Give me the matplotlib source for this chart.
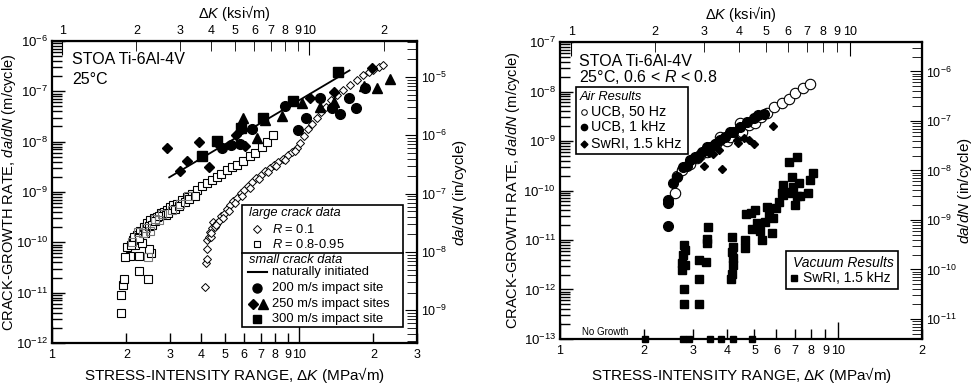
import numpy as np
import matplotlib.pyplot as plt
from matplotlib.ticker import FixedLocator, LogLocator, NullFormatter
from matplotlib.patches import Rectangle

plt.rcParams['font.family'] = ['Liberation Sans', 'DejaVu Sans']
plt.rcParams['mathtext.fontset'] = 'custom'
plt.rcParams['mathtext.rm'] = 'Liberation Sans'
plt.rcParams['mathtext.it'] = 'Liberation Sans:italic'
plt.rcParams['mathtext.bf'] = 'Liberation Sans:bold'

KSI = 1.0988  # MPa*sqrt(m) per ksi*sqrt(in)

# ── Left panel: large crack data ────────────────────────────────────────────
r01_K = [4.16, 4.20, 4.22, 4.23, 4.25, 4.30, 4.39, 4.48, 4.35, 4.45, 4.55, 4.65,
         4.75, 4.85, 4.95, 5.1, 5.25, 5.4, 5.6, 5.8, 6.0, 6.2, 6.45, 6.7, 7.0,
         7.3, 7.6, 7.9, 8.2, 8.6, 9.0, 9.4, 9.8, 10.1, 10.5, 10.9, 11.3, 11.8,
         12.3, 12.8, 13.5, 14.2, 15.0, 16.1, 17.1, 18.2, 19.1, 20.0, 21.0, 21.9,
         4.4, 4.6, 4.9, 5.2, 5.5, 5.9, 6.3, 6.9, 7.5, 8.1, 8.8, 9.6]
r01_da = [1.3e-11, 3.8e-11, 4.7e-11, 7.2e-11, 1.1e-10, 1.25e-10, 1.3e-10, 2.5e-10,
          1.6e-10, 1.9e-10, 2.0e-10, 2.4e-10, 2.7e-10, 3.3e-10, 3.6e-10, 4.6e-10,
          5.4e-10, 6.6e-10, 7.6e-10, 9.5e-10, 1.1e-9, 1.3e-9, 1.6e-9, 1.9e-9,
          2.2e-9, 2.6e-9, 3.0e-9, 3.4e-9, 3.9e-9, 4.6e-9, 5.5e-9, 6.3e-9, 7.6e-9,
          9.5e-9, 1.3e-8, 1.75e-8, 2.2e-8, 2.9e-8, 3.8e-8, 4.9e-8, 6.6e-8, 8.5e-8,
          1.07e-7, 1.35e-7, 1.7e-7, 2.1e-7, 2.4e-7, 2.6e-7, 3.0e-7, 3.3e-7,
          1.5e-10, 2.2e-10, 3.0e-10, 4.2e-10, 6.0e-10, 8.5e-10, 1.2e-9, 1.8e-9,
          2.5e-9, 3.3e-9, 4.4e-9, 6.6e-9]

r08_K = [1.91, 1.90, 1.93, 1.95, 2.24, 2.45, 2.06, 2.24, 2.52, 2.48, 2.17, 2.31,
         2.12, 2.20, 2.27, 2.35, 2.42, 2.50, 2.58, 2.65, 2.75, 2.83, 2.91, 3.0,
         3.1, 3.2, 3.35, 3.51, 3.68, 3.85, 4.05, 4.23, 4.45, 4.64, 4.85, 5.09,
         5.35, 5.59, 5.95, 6.3, 6.64, 7.06, 7.4, 7.85,
         2.15, 2.25, 2.38, 2.46, 2.55, 2.62, 2.70, 2.88, 2.96, 3.15, 3.28, 3.45,
         3.6, 3.78, 1.98, 2.02, 2.09]
r08_da = [3.9e-12, 8.9e-12, 1.4e-11, 1.9e-11, 2.7e-11, 1.9e-11, 5.4e-11, 5.4e-11,
          6.2e-11, 7.2e-11, 8.7e-11, 9.8e-11, 1.1e-10, 1.4e-10, 1.7e-10, 2.0e-10,
          2.4e-10, 2.8e-10, 3.1e-10, 3.2e-10, 3.8e-10, 4.0e-10, 4.4e-10, 5.0e-10,
          5.5e-10, 5.9e-10, 6.8e-10, 7.9e-10, 9.0e-10, 1.1e-9, 1.3e-9, 1.5e-9,
          1.75e-9, 2.0e-9, 2.3e-9, 2.75e-9, 3.1e-9, 3.4e-9, 4.2e-9, 5.1e-9,
          5.9e-9, 7.9e-9, 1.0e-8, 1.35e-8,
          1.3e-10, 1.2e-10, 1.5e-10, 2.1e-10, 2.2e-10, 2.6e-10, 3.3e-10, 3.5e-10,
          3.9e-10, 4.6e-10, 5.2e-10, 6.2e-10, 7.3e-10, 8.4e-10, 5.2e-11, 8.0e-11,
          9.0e-11]

r08g_K = [2.10, 2.22, 2.33, 2.40, 2.49, 2.60, 2.72, 2.80, 3.05, 3.3, 3.55, 2.45]
r08g_da = [1.0e-10, 1.6e-10, 1.5e-10, 1.9e-10, 1.7e-10, 2.9e-10, 2.8e-10,
           3.6e-10, 4.4e-10, 5.7e-10, 8.2e-10, 5.0e-11]

# ── Left panel: small crack data ────────────────────────────────────────────
nat_K = [2.98, 16.0]
nat_da = [1.95e-9, 2.6e-7]

c200_K = [4.86, 5.30, 5.77, 6.47, 8.78, 9.94, 10.7, 12.1, 13.6, 14.6, 15.9, 17.0, 18.5]
c200_da = [7.4e-9, 8.5e-9, 8.9e-9, 1.8e-8, 5.1e-8, 1.7e-8, 3.0e-8, 7.4e-8,
           4.6e-8, 3.6e-8, 7.4e-8, 4.7e-8, 1.17e-7]

d250_K = [2.93, 3.30, 3.53, 3.95, 4.30, 4.69, 5.54, 6.04, 11.1, 13.8, 19.7]
d250_da = [7.6e-9, 2.6e-9, 4.2e-9, 9.8e-9, 3.2e-9, 8.9e-9, 1.35e-8, 8.1e-9,
           7.4e-8, 9.8e-8, 2.9e-7]

t250_K = [5.95, 6.74, 7.28, 8.51, 10.3, 12.2, 13.9, 18.3, 20.6, 23.4]
t250_da = [3.0e-8, 1.2e-8, 2.7e-8, 3.2e-8, 5.8e-8, 4.9e-8, 6.2e-8, 1.25e-7,
           1.17e-7, 1.74e-7]

s300_K = [4.05, 4.67, 5.81, 7.16, 9.43, 14.4]
s300_da = [5.1e-9, 1.02e-8, 1.9e-8, 2.9e-8, 6.5e-8, 2.4e-7]

# ── Right panel: air results ────────────────────────────────────────────────
ucb50_K = [2.59, 2.63, 2.74, 2.93, 3.19, 3.37, 3.56, 3.76, 3.98, 4.27, 4.44, 4.5,
           4.76, 5.03, 5.27, 5.54, 5.88, 6.27, 6.63, 7.0, 7.5, 7.93,
           3.1, 3.4, 3.65, 4.1]
ucb50_da = [8.7e-11, 2.0e-10, 2.6e-10, 3.5e-10, 5.2e-10, 6.0e-10, 7.6e-10,
            1.23e-9, 9.8e-10, 1.3e-9, 2.3e-9, 1.55e-9, 2.1e-9, 2.3e-9, 3.1e-9,
            3.6e-9, 4.8e-9, 5.8e-9, 7.2e-9, 9.5e-9, 1.2e-8, 1.4e-8,
            4.6e-10, 7.0e-10, 8.5e-10, 1.2e-9]

ucb1k_K = [2.44, 2.44, 2.45, 2.54, 2.63, 2.76, 2.85, 2.93, 3.06, 3.14, 3.23, 3.38,
           3.45, 3.61, 3.76, 3.92, 4.09, 4.20, 4.44, 4.69, 5.0, 5.16, 5.39]
ucb1k_da = [1.9e-11, 6.5e-11, 5.5e-11, 1.45e-10, 1.9e-10, 3.0e-10, 3.1e-10,
            4.2e-10, 4.8e-10, 4.8e-10, 6.0e-10, 7.6e-10, 7.4e-10, 8.9e-10,
            1.05e-9, 1.23e-9, 1.55e-9, 1.55e-9, 1.95e-9, 2.45e-9, 2.9e-9,
            3.4e-9, 3.5e-9]

swri_air_K = [3.30, 3.42, 3.56, 3.74, 3.81, 4.32, 4.38, 4.59, 4.76, 4.98, 5.84]
swri_air_da = [3.1e-10, 5.6e-10, 5.5e-10, 6.6e-10, 2.7e-10, 1.05e-9, 9.3e-10,
               1.17e-9, 1.05e-9, 8.9e-10, 2.0e-9]

# ── Right panel: vacuum results ─────────────────────────────────────────────
vac_K = [2.80, 2.81, 2.77, 2.74, 2.74, 2.81, 2.79, 2.79, 3.16, 3.16, 3.16, 3.35,
         3.40, 3.39, 3.37, 4.15, 4.20, 4.15, 4.17, 4.20, 4.15, 4.12, 4.63, 4.63,
         4.67, 4.86, 5.03, 4.89, 5.11, 5.25, 5.32, 5.47, 5.62, 5.54, 5.84, 5.77,
         6.0, 6.14, 6.35, 6.52, 7.10, 7.0, 6.63, 7.1, 6.82, 6.35, 6.27, 6.9,
         7.2, 6.82, 7.93, 8.14, 7.8, 7.3]
vac_da = [7.9e-12, 6.3e-12, 5.0e-12, 3.5e-12, 2.5e-12, 3.1e-12, 1.0e-12, 5.1e-13,
          5.1e-13, 1.6e-12, 4.0e-12, 3.6e-12, 1.8e-11, 1.07e-11, 8.5e-12,
          1.17e-11, 7.2e-12, 5.8e-12, 4.3e-12, 3.1e-12, 2.1e-12, 1.6e-12,
          1.0e-11, 6.8e-12, 3.3e-11, 3.5e-11, 4.1e-11, 1.7e-11, 2.2e-11,
          1.5e-11, 1.0e-11, 2.3e-11, 3.2e-11, 4.7e-11, 2.8e-11, 1.4e-11,
          4.4e-11, 5.9e-11, 8.1e-11, 9.5e-11, 7.6e-11, 5.1e-11, 3.8e-10,
          4.7e-10, 1.9e-10, 1.3e-10, 8.7e-11, 1.2e-10, 1.45e-10, 9.1e-11,
          1.6e-10, 2.3e-10, 9.1e-11, 7.8e-11]

nogrowth_K = [2.02, 2.77, 2.90, 3.46, 3.79, 4.19, 4.9]
nogrowth_da = [1e-13] * 7

bot_labels_left = ['1', '2', '3', '4', '5', '6', '7', '8', '9', '10', '2', '3']
bot_labels_right = ['1', '2', '3', '4', '5', '6', '7', '8', '9', '10', '2']
top_labels_left = ['1', '2', '3', '4', '5', '6', '7', '8', '9', '10', '2']
top_labels_right = ['1', '2', '3', '4', '5', '6', '7', '8', '9', '10']


def log_ticks(ax_axis, vals, labels):
    majors = [v for v in vals if np.isclose(np.log10(v) % 1, 0)]
    minors = [v for v in vals if v not in majors]
    ax_axis.set_major_locator(FixedLocator(majors))
    ax_axis.set_minor_locator(FixedLocator(minors))
    ax_axis.set_ticklabels([labels[vals.index(v)] for v in majors])
    ax_axis.set_ticklabels([labels[vals.index(v)] for v in minors], minor=True)


def style(ax, xlim, ylim, bot_vals, bot_labels, top_vals, top_labels, m2in, in2m,
          toplabel, ylab_x, xlab_y):
    ax.set_xscale('log')
    ax.set_yscale('log')
    ax.set_xlim(*xlim)
    ax.set_ylim(*ylim)
    log_ticks(ax.xaxis, bot_vals, bot_labels)
    ax.yaxis.set_major_locator(LogLocator(base=10, numticks=20))
    ax.yaxis.set_minor_locator(LogLocator(base=10, subs=np.arange(2, 10), numticks=20))
    ax.yaxis.set_minor_formatter(NullFormatter())
    ax.tick_params(which='both', direction='in', width=1.0, labelsize=9)
    ax.tick_params(axis='x', which='major', length=12, pad=4)
    ax.tick_params(axis='x', which='minor', length=7, pad=4)
    ax.tick_params(axis='y', which='major', length=9, pad=3, labelsize=9.5)
    ax.tick_params(axis='y', which='minor', length=7)
    for s in ax.spines.values():
        s.set_linewidth(1.6)
    ax.set_xlabel(r'STRESS-INTENSITY RANGE, Δ$\it{K}$ (MPa√m)', fontsize=11)
    ax.xaxis.set_label_coords(0.5, xlab_y)
    ax.set_ylabel(r'CRACK-GROWTH RATE, $\it{da/dN}$ (m/cycle)', fontsize=10.5)
    ax.yaxis.set_label_coords(ylab_x, 0.5)

    top = ax.secondary_xaxis('top', functions=(lambda k: k / KSI, lambda k: k * KSI))
    log_ticks(top.xaxis, top_vals, top_labels)
    top.tick_params(which='both', direction='in', labelsize=9, pad=3)
    top.tick_params(which='major', length=10)
    top.tick_params(which='minor', length=7)
    top.set_xlabel(toplabel, fontsize=10.5, labelpad=5)

    right = ax.secondary_yaxis('right', functions=(m2in, in2m))
    right.yaxis.set_major_locator(LogLocator(base=10, numticks=20))
    right.yaxis.set_minor_locator(LogLocator(base=10, subs=np.arange(2, 10), numticks=20))
    right.yaxis.set_minor_formatter(NullFormatter())
    right.tick_params(which='both', direction='in', labelsize=9, pad=3)
    right.tick_params(which='major', length=9)
    right.tick_params(which='minor', length=7)
    return top, right


def safe_log(y):
    return np.log10(np.maximum(np.asarray(y, dtype=float), 1e-300))


# left panel right axis as drawn in the original (compressed decades)
def m2in_left(y):
    return 10 ** (-4.383 + 0.8628 * (safe_log(y) + 6))


def in2m_left(y):
    return 10 ** ((safe_log(y) + 4.383) / 0.8628 - 6)


def m2in_right(y):
    return np.asarray(y, dtype=float) * 39.37


def in2m_right(y):
    return np.asarray(y, dtype=float) / 39.37


fig = plt.figure(figsize=(9.74, 3.84), dpi=100)
axL = fig.add_axes([0.0534, 0.1068, 0.3747, 0.7865])
axR = fig.add_axes([0.5749, 0.1172, 0.3717, 0.7734])

# ── Left panel ──────────────────────────────────────────────────────────────
style(axL, (1, 30), (1e-12, 1e-6),
      [1, 2, 3, 4, 5, 6, 7, 8, 9, 10, 20, 30], bot_labels_left,
      [1, 2, 3, 4, 5, 6, 7, 8, 9, 10, 20], top_labels_left,
      m2in_left, in2m_left, r'Δ$\it{K}$ (ksi√m)', -0.092, -0.074)
fig.text(460 / 974, 1 - 192 / 384, r'$\it{da/dN}$ (in/cycle)', rotation=90,
         ha='center', va='center', fontsize=11)

axL.plot(r08_K, r08_da, 's', ms=5.5, mfc='white', mec='black', mew=0.8)
axL.plot(r08g_K, r08g_da, 's', ms=5.5, mfc='none', mec='#777777', mew=0.8)
axL.plot(r01_K, r01_da, 'D', ms=4.2, mfc='white', mec='black', mew=0.7)
axL.plot(nat_K, nat_da, '-', color='black', lw=1.3)
axL.plot(c200_K, c200_da, 'o', ms=7, color='black')
axL.plot(d250_K, d250_da, 'D', ms=5.5, color='black')
axL.plot(t250_K, t250_da, '^', ms=7.5, color='black')
axL.plot(s300_K, s300_da, 's', ms=6.5, color='black')

axL.text(0.055, 0.937, 'STOA Ti-6Al-4V', transform=axL.transAxes, fontsize=11.5,
         va='center')
axL.text(0.055, 0.874, '25°C', transform=axL.transAxes, fontsize=11.5, va='center')

# legend (two sections)
tr = axL.transAxes
axL.add_patch(Rectangle((0.5205, 0.053), 0.9616 - 0.5205, 0.457 - 0.053,
                        transform=tr, fill=True, fc='white', ec='black', lw=1.2,
                        zorder=5))
axL.plot([0.5205, 0.9616], [0.298, 0.298], transform=tr, color='black', lw=1.2,
         zorder=6)
lfs = 9.3
axL.text(0.540, 0.4295, 'large crack data', style='italic', transform=tr,
         fontsize=lfs, va='center', zorder=6)
axL.plot([0.5608], [0.3765], 'D', ms=4.2, mfc='white', mec='black', mew=0.7,
         transform=tr, zorder=6)
axL.text(0.6019, 0.3765, r'$\it{R}$ = 0.1', transform=tr, fontsize=lfs,
         va='center', zorder=6)
axL.plot([0.5608], [0.3268], 's', ms=5, mfc='white', mec='black', mew=0.8,
         transform=tr, zorder=6)
axL.text(0.6019, 0.3268, r'$\it{R}$ = 0.8-0.95', transform=tr, fontsize=lfs,
         va='center', zorder=6)
axL.text(0.540, 0.2748, 'small crack data', style='italic', transform=tr,
         fontsize=lfs, va='center', zorder=6)
axL.plot([0.537, 0.588], [0.2361, 0.2361], '-', color='black', lw=1.5,
         transform=tr, zorder=6)
axL.text(0.6019, 0.2361, 'naturally initiated', transform=tr, fontsize=lfs,
         va='center', zorder=6)
axL.plot([0.5608], [0.1811], 'o', ms=6.5, color='black', transform=tr, zorder=6)
axL.text(0.6019, 0.1811, '200 m/s impact site', transform=tr, fontsize=lfs,
         va='center', zorder=6)
axL.plot([0.5507], [0.1291], 'D', ms=5, color='black', transform=tr, zorder=6)
axL.plot([0.5773], [0.1291], '^', ms=6.5, color='black', transform=tr, zorder=6)
axL.text(0.6019, 0.1291, '250 m/s impact sites', transform=tr, fontsize=lfs,
         va='center', zorder=6)
axL.plot([0.5608], [0.0795], 's', ms=6, color='black', transform=tr, zorder=6)
axL.text(0.6019, 0.0795, '300 m/s impact site', transform=tr, fontsize=lfs,
         va='center', zorder=6)

# ── Right panel ─────────────────────────────────────────────────────────────
style(axR, (1, 20), (1e-13, 1e-7),
      [1, 2, 3, 4, 5, 6, 7, 8, 9, 10, 20], bot_labels_right,
      [1, 2, 3, 4, 5, 6, 7, 8, 9, 10], top_labels_right,
      m2in_right, in2m_right, r'Δ$\it{K}$ (ksi√in)', -0.105, -0.088)
fig.text(965 / 974, 1 - 190 / 384, r'$\it{da/dN}$ (in/cycle)', rotation=90,
         ha='center', va='center', fontsize=11)

axR.plot(ucb50_K, ucb50_da, 'o', ms=7.5, mfc='white', mec='black', mew=0.8)
axR.plot(ucb1k_K, ucb1k_da, 'o', ms=7, color='black')
axR.plot(swri_air_K, swri_air_da, 'D', ms=4.2, color='black')
axR.plot(vac_K, vac_da, 's', ms=5.5, color='black')
axR.plot(nogrowth_K, nogrowth_da, 's', ms=5, color='black', clip_on=False, zorder=4)

trR = axR.transAxes
axR.text(0.0525, 0.9337, 'STOA Ti-6Al-4V', transform=trR, fontsize=11.5, va='center')
axR.text(0.0525, 0.8805, r'25°C, 0.6 < $\it{R}$ < 0.8', transform=trR,
         fontsize=11.5, va='center')
axR.text(0.061, 0.022, 'No Growth', transform=trR, fontsize=7, va='center')

axR.add_patch(Rectangle((0.0442, 0.6229), 0.3536 - 0.0442, 0.8485 - 0.6229,
                        transform=trR, fc='white', ec='black', lw=1.2, zorder=5))
axR.text(0.0552, 0.8158, 'Air Results', style='italic', transform=trR,
         fontsize=lfs, va='center', zorder=6)
axR.plot([0.0663], [0.7653], 'o', ms=4, mfc='white', mec='black', mew=0.7,
         transform=trR, zorder=6)
axR.text(0.0870, 0.7653, 'UCB, 50 Hz', transform=trR, fontsize=10.3, va='center',
         zorder=6)
axR.plot([0.0663], [0.7148], 'o', ms=4.5, color='black', transform=trR, zorder=6)
axR.text(0.0870, 0.7148, 'UCB, 1 kHz', transform=trR, fontsize=10.3, va='center',
         zorder=6)
axR.plot([0.0663], [0.6556], 'D', ms=3.5, color='black', transform=trR, zorder=6)
axR.text(0.0870, 0.6556, 'SwRI, 1.5 kHz', transform=trR, fontsize=10.3,
         va='center', zorder=6)

axR.add_patch(Rectangle((0.6243, 0.1684), 0.9337 - 0.6243, 0.2963 - 0.1684,
                        transform=trR, fc='white', ec='black', lw=1.2, zorder=5))
axR.text(0.6436, 0.2569, 'Vacuum Results', style='italic', transform=trR,
         fontsize=10, va='center', zorder=6)
axR.plot([0.6464], [0.2044], 's', ms=4.5, color='black', transform=trR, zorder=6)
axR.text(0.6713, 0.2044, 'SwRI, 1.5 kHz', transform=trR, fontsize=10,
         va='center', zorder=6)

fig.savefig('out.png', dpi=100)
